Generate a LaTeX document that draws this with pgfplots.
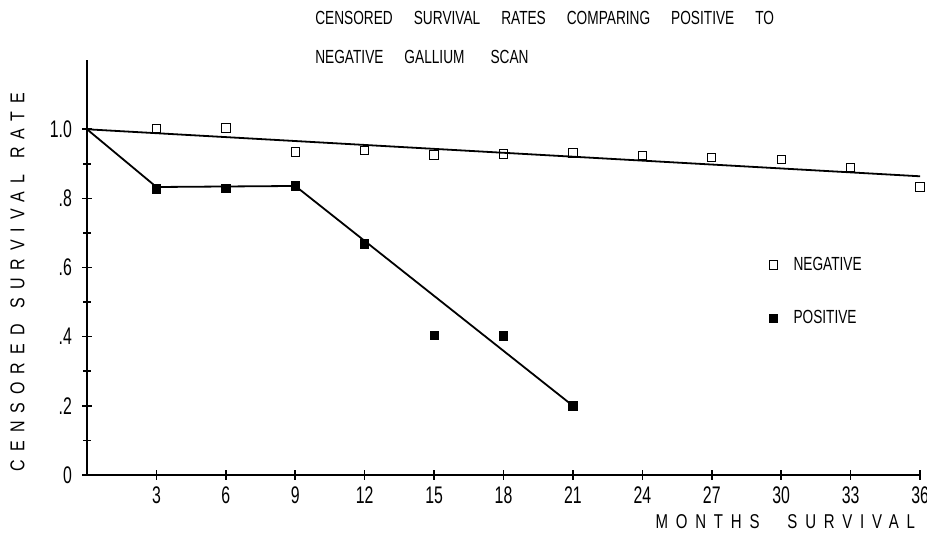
\documentclass[border=0pt]{standalone}
\usepackage{fontspec}
\usepackage{pgfplots}
\pgfplotsset{compat=1.18}
\setmainfont{Liberation Sans}
\newfontfamily\titlefont[FakeStretch=0.72]{Liberation Sans}
\newfontfamily\tickfont[FakeStretch=0.66]{Liberation Sans}
\newfontfamily\labelfont[FakeStretch=0.8,LetterSpace=40]{Liberation Sans}
\newfontfamily\xlabelfont[FakeStretch=0.75,LetterSpace=39]{Liberation Sans}

\begin{document}
\begin{tikzpicture}
\begin{axis}[
  scale only axis, width=416.5pt, height=207.4pt,
  xmin=0, xmax=36, ymin=0, ymax=1.2,
  axis lines=left, axis line style={line width=1pt, -},
  clip=false,
  xtick={3,6,9,12,15,18,21,24,27,30,33,36},
  ytick={0,0.2,0.4,0.6,0.8,1.0},
  yticklabels={0,.2,.4,.6,.8,1.0},
  minor ytick={0.1,0.3,0.5,0.7,0.9},
  tick align=center, major tick length=5pt, minor tick length=4pt,
  tick style={black, line width=0.8pt},
  /pgf/number format/assume math mode=true,
  xticklabel style={font=\tickfont\fontsize{12}{14}\selectfont, yshift=0pt},
  yticklabel style={font=\tickfont\fontsize{12}{14}\selectfont, xshift=-1.5pt},
  legend style={at={(axis cs:29.2,0.655)}, anchor=north west, draw=none,
    font=\titlefont\fontsize{9.5}{11}\selectfont, row sep=14.5pt, column sep=6pt},
  legend cell align=left,
]
\addplot[black, line width=0.9pt, forget plot] coordinates {(0,1.0) (36,0.864)};
\addplot[black, line width=0.9pt, forget plot] coordinates {(0,1.0) (3,0.833) (9,0.836) (21,0.2)};
\addplot[only marks, mark=square, mark size=2.1pt, mark options={black, line width=0.5pt}] coordinates {
 (3,1.003) (6,1.004) (9,0.934) (12,0.938) (15,0.926) (18,0.929) (21,0.931)
 (24,0.924) (27,0.919) (30,0.913) (33,0.889) (36,0.833)};
\addlegendentry{NEGATIVE}
\addplot[only marks, mark=square*, mark size=2.1pt, mark options={black}] coordinates {
 (3,0.827) (6,0.829) (9,0.836) (12,0.668) (15,0.403) (18,0.402) (21,0.2)};
\addlegendentry{POSITIVE}

\node[anchor=west, font=\titlefont\fontsize{9.5}{11}\selectfont, inner sep=0pt] at (axis cs:9.85,1.322)
  {CENSORED\hspace{10.5pt}SURVIVAL\hspace{10.5pt}RATES\hspace{10.5pt}COMPARING\hspace{10.5pt}POSITIVE\hspace{10.5pt}TO};
\node[anchor=west, font=\titlefont\fontsize{9.5}{11}\selectfont, inner sep=0pt] at (axis cs:9.85,1.209)
  {NEGATIVE\hspace{10.5pt}GALLIUM\hspace{13pt}SCAN};
\node[rotate=90, font=\labelfont\fontsize{10}{12}\selectfont, inner sep=0pt] at (axis cs:-3.0,0.558)
  {CENSORED\hspace{8pt}SURVIVAL\hspace{8pt}RATE};
\node[anchor=west, font=\xlabelfont\fontsize{10}{12}\selectfont, inner sep=0pt] at (axis cs:24.55,-0.136)
  {MONTHS\hspace{14pt}SURVIVAL};

\coordinate (bl) at (axis cs:-3.76,-0.191);
\coordinate (tr) at (axis cs:36.30,1.374);
\end{axis}
\pgfresetboundingbox
\path (bl) rectangle (tr);
\end{tikzpicture}
\end{document}
